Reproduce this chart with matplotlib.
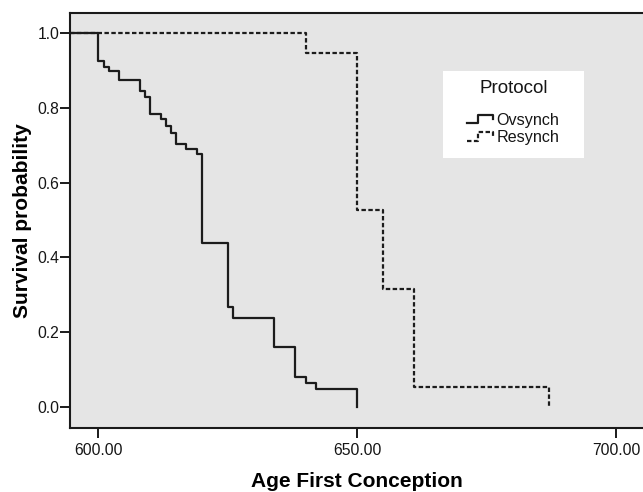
import matplotlib
matplotlib.use("Agg")
import matplotlib.pyplot as plt
import numpy as np
from matplotlib.legend_handler import HandlerBase
from matplotlib.lines import Line2D
from matplotlib.patches import Rectangle

plt.rcParams['font.family'] = ['Liberation Sans', 'DejaVu Sans']

# Kaplan-Meier steps (time of event, survival after event)
ovsynch_time = [600, 601, 602, 604, 608, 609, 610, 612, 613, 614, 615, 617, 619,
                620, 625, 626, 634, 638, 640, 642, 650]
ovsynch_surv = [0.925, 0.911, 0.898, 0.876, 0.846, 0.829, 0.784, 0.770, 0.752,
                0.734, 0.704, 0.689, 0.676, 0.439, 0.267, 0.237, 0.160, 0.081,
                0.065, 0.047, 0.0]

resynch_time = [640, 650, 655, 661, 687]
resynch_surv = [0.947, 0.526, 0.316, 0.053, 0.0]

group_names = ['Ovsynch', 'Resynch']
x_ticks = [600, 650, 700]
y_ticks = [0.0, 0.2, 0.4, 0.6, 0.8, 1.0]

x_lo, x_hi = 594.5, 705.2
y_lo, y_hi = -0.0557, 1.055


# legend handle drawn as a little step, like the SPSS legend
class StepHandler(HandlerBase):
    def create_artists(self, legend, orig_handle, xdescent, ydescent,
                       width, height, fontsize, trans):
        xs = np.array([0.0, 0.44, 0.44, 1.0, 1.0]) * width - xdescent
        ys = np.array([0.05, 0.05, 0.95, 0.95, 0.5]) * height - ydescent
        line = Line2D(xs, ys)
        self.update_prop(line, orig_handle, legend)
        line.set_transform(trans)
        return [line]


fig = plt.figure(figsize=(6.43, 4.92), dpi=100)
ax = fig.add_axes([70 / 643, 1 - 427.7 / 492, 573 / 643, 415 / 492])
ax.set_facecolor('#e5e5e5')

# curves start at the left edge of the axis at survival 1.0
line_ovs, = ax.step([x_lo] + ovsynch_time, [1.0] + ovsynch_surv, where='post',
                    color='#1c1c1c', lw=1.6, label=group_names[0])
line_res, = ax.step([x_lo] + resynch_time, [1.0] + resynch_surv, where='post',
                    color='#1c1c1c', lw=1.6, linestyle=(0, (2.0, 1.1)),
                    label=group_names[1])

ax.set_xlim(x_lo, x_hi)
ax.set_ylim(y_lo, y_hi)
ax.set_xticks(x_ticks)
ax.set_xticklabels([f'{v:.2f}' for v in x_ticks])
ax.set_yticks(y_ticks)
ax.set_yticklabels([f'{v:.1f}' for v in y_ticks])

ax.tick_params(axis='x', length=7, width=1.4, pad=3.9, labelsize=11.3,
               color='#1a1a1a', labelcolor='#151515')
ax.tick_params(axis='y', length=7, width=1.4, pad=0.5, labelsize=11.3,
               color='#1a1a1a', labelcolor='#151515')

for side in ['left', 'bottom', 'top']:
    ax.spines[side].set_linewidth(1.5)
    ax.spines[side].set_color('#1a1a1a')
ax.spines['right'].set_visible(False)

ax.set_xlabel('Age First Conception', fontsize=15, fontweight='bold', labelpad=10.5)
ax.set_ylabel('Survival probability', fontsize=15, fontweight='bold', labelpad=4)

# white legend box with title
ax.add_patch(Rectangle((372.7 / 573, 1 - 145.3 / 415), 141.3 / 573, 86.7 / 415,
                       transform=ax.transAxes, facecolor='white',
                       edgecolor='none', zorder=3))
ax.text(443.4 / 573, 1 - 76 / 415, 'Protocol', transform=ax.transAxes,
        ha='center', va='center', fontsize=13.5, color='#151515', zorder=4)
leg = ax.legend(handles=[line_ovs, line_res], loc='center left',
                bbox_to_anchor=(396.7 / 573, 1 - 116.2 / 415),
                frameon=False, fontsize=11.6, borderpad=0, borderaxespad=0,
                handlelength=1.65, handleheight=0.55, handletextpad=0.2,
                labelspacing=0.15,
                handler_map={Line2D: StepHandler()})
for txt in leg.get_texts():
    txt.set_color('#151515')
leg.set_zorder(5)

fig.savefig('out.png', dpi=100)
